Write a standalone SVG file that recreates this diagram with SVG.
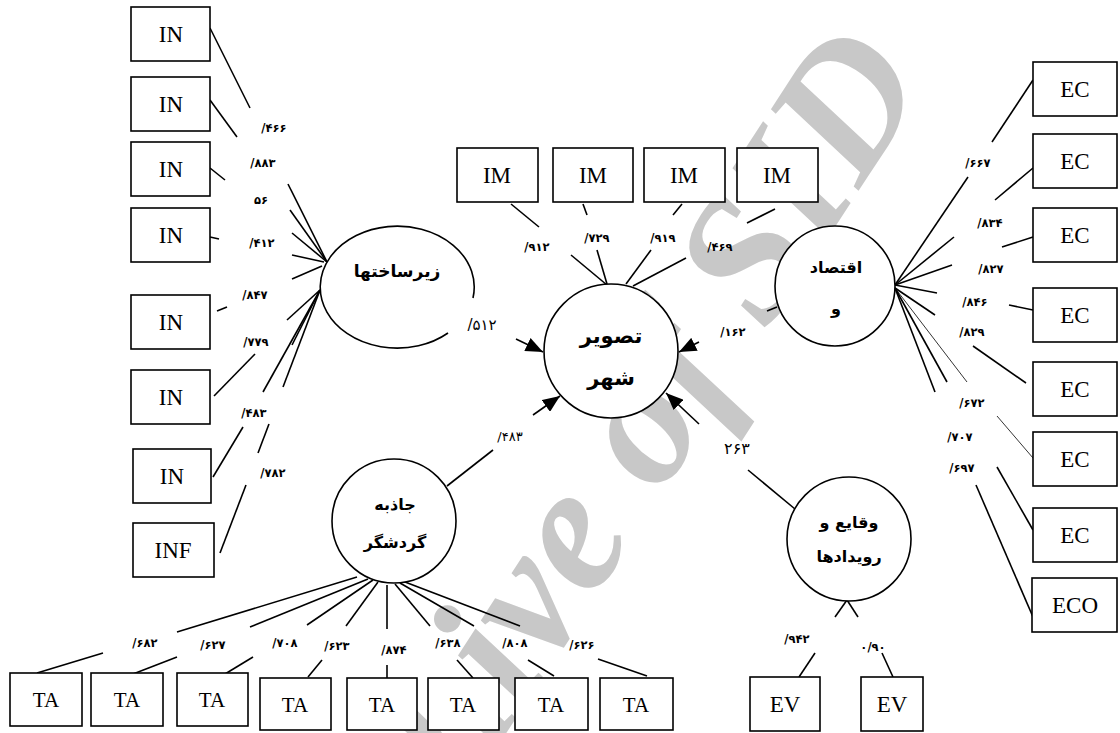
<svg xmlns="http://www.w3.org/2000/svg" width="1120" height="733" viewBox="0 0 1120 733">
<style>
.bx{fill:#fff;stroke:#000;stroke-width:1.6}
.nd{fill:#fff;stroke:#000;stroke-width:1.6}
.bt{font-family:"Liberation Serif","Times New Roman",serif;font-size:23px;fill:#000;text-anchor:middle}
.ct{font-family:"DejaVu Sans","Noto Sans",sans-serif;font-weight:bold;font-size:16px;fill:#000;text-anchor:middle}
.lb{font-family:"DejaVu Sans","Noto Sans",sans-serif;font-weight:bold;font-size:11.5px;fill:#000;text-anchor:middle}
.lr{font-family:"DejaVu Sans","Noto Sans",sans-serif;font-size:13px;fill:#000;text-anchor:middle}
#connectors line{stroke:#000;stroke-width:1.6}
.wm{font-family:"Liberation Serif","Times New Roman",serif;font-weight:bold;font-style:italic;font-size:180px;fill:#c8c8c8}
</style>
<defs>
<marker id="ah" viewBox="0 0 12 10" refX="12" refY="5" markerWidth="11" markerHeight="9" markerUnits="strokeWidth" orient="auto">
<path d="M0,0 L12,5 L0,10 z" fill="#000"/>
</marker>
</defs>
<rect width="1120" height="733" fill="#fff"/>
<g id="watermark"><text class="wm" transform="translate(320,1020) rotate(-57)">Archive of SID</text></g>

<g id="connectors">
<line x1="210" y1="28" x2="250" y2="108"/><line x1="288" y1="184" x2="327" y2="262"/>
<line x1="210" y1="100" x2="237" y2="137"/><line x1="290" y1="210" x2="327" y2="262"/>
<line x1="210" y1="168" x2="225" y2="180"/><line x1="292" y1="233" x2="327" y2="262"/>
<line x1="210" y1="237" x2="219" y2="239"/><line x1="292" y1="255" x2="324" y2="262"/>
<line x1="217" y1="311" x2="227" y2="307"/><line x1="292" y1="279" x2="322" y2="266"/>
<line x1="214" y1="396" x2="255" y2="354"/><line x1="287" y1="320" x2="320" y2="290"/>
<line x1="213" y1="477" x2="243" y2="427"/><line x1="263" y1="392" x2="320" y2="290"/>
<line x1="220" y1="553" x2="246" y2="485"/><line x1="258" y1="453" x2="269" y2="424"/><line x1="283" y1="387" x2="320" y2="290"/>
<line x1="292" y1="345" x2="320" y2="290"/>

<line x1="511" y1="204" x2="539" y2="227"/><line x1="571" y1="255" x2="607" y2="285"/>
<line x1="583" y1="204" x2="587" y2="215"/><line x1="597" y1="250" x2="607" y2="284"/>
<line x1="682" y1="204" x2="673" y2="215"/><line x1="651" y1="250" x2="626" y2="284"/>
<line x1="775" y1="209" x2="747" y2="223"/><line x1="686" y1="258" x2="633" y2="286"/>

<line x1="516" y1="339" x2="543" y2="352" marker-end="url(#ah)"/>
<line x1="699" y1="342" x2="679" y2="352" marker-end="url(#ah)"/>
<line x1="533" y1="415" x2="560" y2="396" marker-end="url(#ah)"/>
<line x1="699" y1="424" x2="666" y2="393" marker-end="url(#ah)"/>
<line x1="447" y1="486" x2="493" y2="450"/>
<line x1="748" y1="470" x2="795" y2="509"/>
<line x1="767" y1="311" x2="777" y2="307"/>

<line x1="1033" y1="80" x2="992" y2="142"/><line x1="968" y1="177" x2="895" y2="285"/>
<line x1="1033" y1="168" x2="995" y2="200"/><line x1="954" y1="237" x2="895" y2="285"/>
<line x1="1033" y1="237" x2="1002" y2="247"/><line x1="952" y1="265" x2="895" y2="285"/>
<line x1="1033" y1="310" x2="1009" y2="305"/><line x1="937" y1="293" x2="895" y2="285"/>
<line x1="1026" y1="383" x2="973" y2="346"/><line x1="935" y1="315" x2="895" y2="288"/>
<line x1="1033" y1="458" x2="997" y2="416" style="stroke-width:0.8"/><line x1="967" y1="382" x2="895" y2="288" style="stroke-width:0.8"/>
<line x1="1033" y1="530" x2="997" y2="467"/><line x1="947" y1="382" x2="895" y2="288"/>
<line x1="1033" y1="617" x2="976" y2="485"/><line x1="935" y1="392" x2="895" y2="288"/>

<line x1="357" y1="577" x2="177" y2="632"/><line x1="103" y1="653" x2="37" y2="673"/>
<line x1="368" y1="579" x2="250" y2="627"/><line x1="177" y1="657" x2="133" y2="674"/>
<line x1="373" y1="580" x2="307" y2="625"/><line x1="253" y1="657" x2="225" y2="674"/>
<line x1="378" y1="582" x2="346" y2="626"/><line x1="322" y1="660" x2="308" y2="677"/>
<line x1="387" y1="585" x2="387" y2="629"/><line x1="387" y1="665" x2="387" y2="678"/>
<line x1="395" y1="584" x2="430" y2="626"/><line x1="457" y1="660" x2="473" y2="678"/>
<line x1="400" y1="583" x2="474" y2="626"/><line x1="528" y1="660" x2="554" y2="676"/>
<line x1="405" y1="582" x2="520" y2="626"/><line x1="598" y1="659" x2="647" y2="676"/>

<line x1="847" y1="600" x2="835" y2="617"/><line x1="847" y1="600" x2="858" y2="617"/>
<line x1="815" y1="653" x2="799" y2="677"/><line x1="882" y1="653" x2="893" y2="677"/>
</g>

<g id="labels">
<text class="lb" x="274" y="132">/۴۶۶</text>
<text class="lb" x="263" y="167">/۸۸۳</text>
<text class="lb" x="261" y="204">۵۶</text>
<text class="lb" x="262" y="247">/۴۱۲</text>
<text class="lb" x="255" y="299">/۸۴۷</text>
<text class="lb" x="256" y="346">/۷۷۹</text>
<text class="lb" x="254" y="417">/۴۸۳</text>
<text class="lb" x="273" y="477">/۷۸۲</text>
<text class="lb" x="537" y="251">/۹۱۲</text>
<text class="lb" x="597" y="242">/۷۲۹</text>
<text class="lb" x="663" y="242">/۹۱۹</text>
<text class="lb" x="720" y="251">/۴۶۹</text>
<text class="lb" x="978" y="167">/۶۶۷</text>
<text class="lb" x="990" y="227">/۸۳۴</text>
<text class="lb" x="991" y="273">/۸۲۷</text>
<text class="lb" x="975" y="306">/۸۴۶</text>
<text class="lb" x="972" y="336">/۸۲۹</text>
<text class="lb" x="972" y="407">/۶۷۲</text>
<text class="lb" x="960" y="441">/۷۰۷</text>
<text class="lb" x="962" y="472">/۶۹۷</text>
<text class="lb" x="145" y="647">/۶۸۲</text>
<text class="lb" x="213" y="649">/۶۲۷</text>
<text class="lb" x="285" y="647">/۷۰۸</text>
<text class="lb" x="337" y="650">/۶۲۳</text>
<text class="lb" x="394" y="654">/۸۷۴</text>
<text class="lb" x="448" y="647">/۶۳۸</text>
<text class="lb" x="515" y="647">/۸۰۸</text>
<text class="lb" x="582" y="649">/۶۲۶</text>
<text class="lr" x="482" y="330" style="font-size:15px">/۵۱۲</text>
<text class="lb" x="733" y="336">/۱۶۲</text>
<text class="lr" x="510" y="441" style="font-size:13px">/۴۸۳</text>
<text class="lr" x="737" y="454" style="font-size:16px">۲۶۳</text>
<text class="lb" x="797" y="643">/۹۴۲</text>
<text class="lb" x="873" y="651">۰/۹۰</text>
</g>

<g id="n-in1"><rect class="bx" x="131" y="7" width="79" height="54"/><text class="bt" x="171" y="42">IN</text></g>
<g id="n-in2"><rect class="bx" x="131" y="77" width="79" height="54"/><text class="bt" x="171" y="112">IN</text></g>
<g id="n-in3"><rect class="bx" x="131" y="142" width="79" height="54"/><text class="bt" x="171" y="177">IN</text></g>
<g id="n-in4"><rect class="bx" x="131" y="208" width="79" height="54"/><text class="bt" x="171" y="243">IN</text></g>
<g id="n-in5"><rect class="bx" x="131" y="295" width="79" height="54"/><text class="bt" x="171" y="330">IN</text></g>
<g id="n-in6"><rect class="bx" x="131" y="370" width="79" height="54"/><text class="bt" x="171" y="405">IN</text></g>
<g id="n-in7"><rect class="bx" x="133" y="449" width="78" height="54"/><text class="bt" x="172" y="484">IN</text></g>
<g id="n-inf"><rect class="bx" x="133" y="523" width="81" height="54"/><text class="bt" x="173" y="558">INF</text></g>

<g id="n-im1"><rect class="bx" x="457" y="148" width="81" height="54"/><text class="bt" x="497" y="183">IM</text></g>
<g id="n-im2"><rect class="bx" x="553" y="148" width="80" height="54"/><text class="bt" x="593" y="183">IM</text></g>
<g id="n-im3"><rect class="bx" x="644" y="148" width="81" height="54"/><text class="bt" x="684" y="183">IM</text></g>
<g id="n-im4"><rect class="bx" x="737" y="148" width="81" height="54"/><text class="bt" x="777" y="183">IM</text></g>

<g id="n-ec1"><rect class="bx" x="1033" y="62" width="84" height="54"/><text class="bt" x="1075" y="97">EC</text></g>
<g id="n-ec2"><rect class="bx" x="1033" y="134" width="84" height="54"/><text class="bt" x="1075" y="169">EC</text></g>
<g id="n-ec3"><rect class="bx" x="1033" y="208" width="84" height="54"/><text class="bt" x="1075" y="243">EC</text></g>
<g id="n-ec4"><rect class="bx" x="1033" y="288" width="84" height="54"/><text class="bt" x="1075" y="323">EC</text></g>
<g id="n-ec5"><rect class="bx" x="1033" y="362" width="84" height="54"/><text class="bt" x="1075" y="397">EC</text></g>
<g id="n-ec6"><rect class="bx" x="1033" y="432" width="84" height="54"/><text class="bt" x="1075" y="467">EC</text></g>
<g id="n-ec7"><rect class="bx" x="1033" y="508" width="84" height="54"/><text class="bt" x="1075" y="543">EC</text></g>
<g id="n-eco"><rect class="bx" x="1032" y="578" width="85" height="54"/><text class="bt" x="1075" y="613">ECO</text></g>

<g id="n-ta1"><rect class="bx" x="10" y="673" width="72" height="53"/><text class="bt" x="46" y="707" style="font-size:21px">TA</text></g>
<g id="n-ta2"><rect class="bx" x="91" y="673" width="72" height="53"/><text class="bt" x="127" y="707" style="font-size:21px">TA</text></g>
<g id="n-ta3"><rect class="bx" x="177" y="673" width="71" height="53"/><text class="bt" x="212" y="707" style="font-size:21px">TA</text></g>
<g id="n-ta4"><rect class="bx" x="260" y="678" width="71" height="52"/><text class="bt" x="295" y="712" style="font-size:21px">TA</text></g>
<g id="n-ta5"><rect class="bx" x="347" y="678" width="70" height="52"/><text class="bt" x="382" y="712" style="font-size:21px">TA</text></g>
<g id="n-ta6"><rect class="bx" x="428" y="678" width="71" height="52"/><text class="bt" x="463" y="712" style="font-size:21px">TA</text></g>
<g id="n-ta7"><rect class="bx" x="515" y="678" width="73" height="52"/><text class="bt" x="551" y="712" style="font-size:21px">TA</text></g>
<g id="n-ta8"><rect class="bx" x="600" y="678" width="73" height="52"/><text class="bt" x="636" y="712" style="font-size:21px">TA</text></g>

<g id="n-ev1"><rect class="bx" x="750" y="677" width="70" height="54"/><text class="bt" x="785" y="712">EV</text></g>
<g id="n-ev2"><rect class="bx" x="861" y="677" width="62" height="54"/><text class="bt" x="892" y="712">EV</text></g>

<g id="n-zirsakht"><path class="nd" d="M448,333 A77,61 0 1 1 473,298"/><text class="ct" x="397" y="277" style="font-size:17px">زیرساختها</text></g>
<g id="n-tasvir"><circle class="nd" cx="611" cy="351" r="67"/><text class="ct" x="611" y="343" style="font-size:21px">تصویر</text><text class="ct" x="611" y="385" style="font-size:21px">شهر</text></g>
<g id="n-eqtesad"><circle class="nd" cx="835" cy="286" r="60"/><text class="ct" x="836" y="273">اقتصاد</text><text class="ct" x="836" y="314">و</text></g>
<g id="n-jazebe"><circle class="nd" cx="394" cy="521" r="62"/><text class="ct" x="395" y="510">جاذبه</text><text class="ct" x="395" y="548">گردشگر</text></g>
<g id="n-vaghaye"><circle class="nd" cx="849" cy="539" r="62"/><text class="ct" x="849" y="528">وقایع و</text><text class="ct" x="849" y="562">رویدادها</text></g>
</svg>
